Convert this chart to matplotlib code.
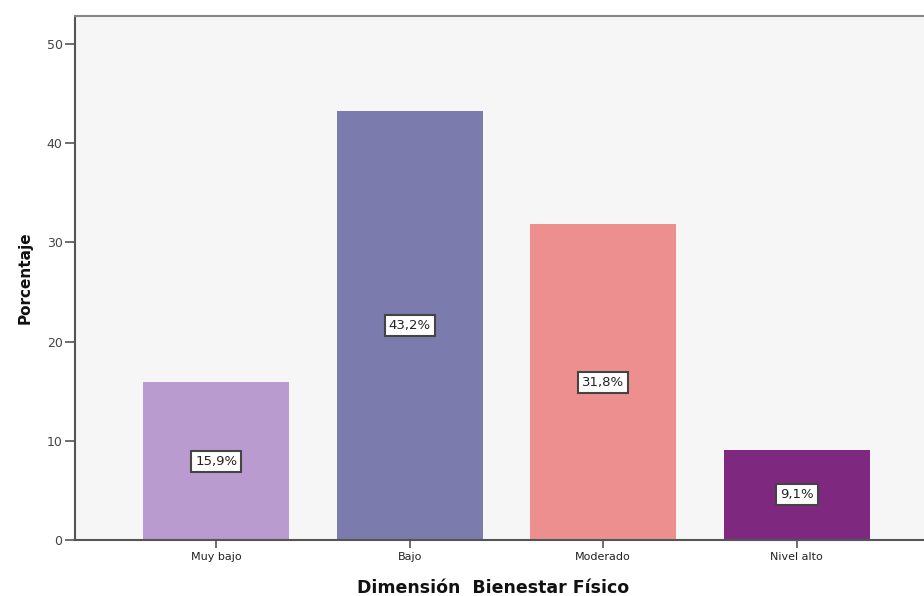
import matplotlib.pyplot as plt

categorias = ["Muy bajo", "Bajo", "Moderado", "Nivel alto"]
porcentajes = [15.9, 43.2, 31.8, 9.1]
etiquetas = ["15,9%", "43,2%", "31,8%", "9,1%"]
colores = ["#b99bcf", "#7b7bad", "#ee8f8f", "#7e2880"]

fig = plt.figure(figsize=(9.24, 5.96), dpi=100)
ax = fig.add_axes([75 / 924, 56 / 596, 863 / 924, 524 / 596])
ax.set_facecolor("#f6f6f6")

x = range(len(categorias))
ax.bar(x, porcentajes, width=0.755, color=colores, zorder=2)

for xi, v, txt in zip(x, porcentajes, etiquetas):
    ax.text(xi, v / 2, txt, ha="center", va="center", fontsize=9.5, color="#222222",
            bbox=dict(boxstyle="square,pad=0.3", fc="white", ec="#444444", lw=1.5),
            zorder=3)

ax.set_xlim(-0.73, 3.73)
ax.set_ylim(0, 52.8)
ax.set_yticks([0, 10, 20, 30, 40, 50])
ax.set_xticks(list(x))
ax.set_xticklabels(categorias)

ax.tick_params(axis="y", direction="out", length=7, width=1.2, color="#555555",
               labelsize=9, labelcolor="#444444", pad=2)
ax.tick_params(axis="x", direction="out", length=6, width=1.2, color="#555555",
               labelsize=8, labelcolor="#222222", pad=3)

for side in ["left", "bottom"]:
    ax.spines[side].set_color("#555555")
    ax.spines[side].set_linewidth(1.5)
ax.spines["top"].set_color("#888888")
ax.spines["top"].set_linewidth(1.5)
ax.spines["right"].set_visible(False)

ax.set_ylabel("Porcentaje", fontsize=11, fontweight="bold", color="#111111", labelpad=10)
fig.text(493 / 924, 1 - 588 / 596, "Dimensión  Bienestar Físico", fontsize=12.5,
         fontweight="bold", color="#111111", ha="center", va="center")

fig.savefig("out.png", dpi=100)
